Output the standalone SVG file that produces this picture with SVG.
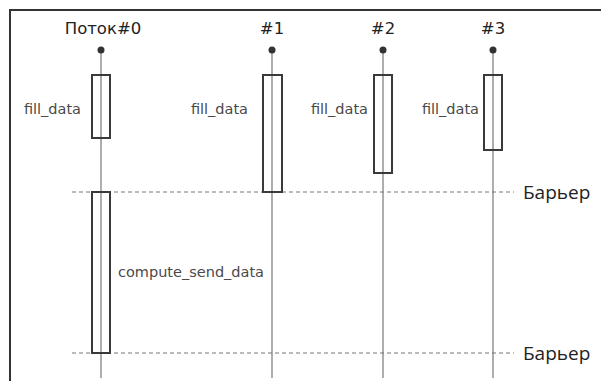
<svg xmlns="http://www.w3.org/2000/svg" width="601" height="381" viewBox="0 0 601 381">
<style>
.life{stroke:#777;stroke-width:1.2;fill:none}
.box{stroke:#3a3a3a;stroke-width:2;fill:none}
.dash{stroke:#777;stroke-width:1;stroke-dasharray:4,3;fill:none}
.title{font-family:"DejaVu Sans",sans-serif;font-size:16.5px;fill:#222;text-anchor:middle}
.lbl{font-family:"DejaVu Sans",sans-serif;font-size:14.5px;fill:#4a4a4a}
.bar{font-family:"Open Sans",sans-serif;font-size:19px;fill:#222}
</style>
<rect width="601" height="381" fill="#fff"/>
<path d="M10,381 V10 H601" stroke="#333" stroke-width="2" fill="none"/>
<g id="connectors">
<line class="life" x1="101" y1="50" x2="101" y2="378"/>
<line class="life" x1="272" y1="50" x2="272" y2="378"/>
<line class="life" x1="383" y1="50" x2="383" y2="378"/>
<line class="life" x1="493" y1="50" x2="493" y2="378"/>
<line class="dash" x1="72" y1="192" x2="514" y2="192"/>
<line class="dash" x1="72" y1="353" x2="514" y2="353"/>
</g>
<g id="thread0">
<text class="title" x="103" y="34">Поток#0</text>
<circle cx="101" cy="50" r="3.5" fill="#333"/>
<rect class="box" x="92" y="75" width="18" height="63"/>
<text class="lbl" x="81" y="114" text-anchor="end">fill_data</text>
<rect class="box" x="92" y="192" width="18" height="161"/>
<text class="lbl" x="118" y="277">compute_send_data</text>
</g>
<g id="thread1">
<text class="title" x="272" y="34">#1</text>
<circle cx="272" cy="50" r="3.5" fill="#333"/>
<rect class="box" x="263" y="75" width="19" height="117"/>
<text class="lbl" x="248" y="114" text-anchor="end">fill_data</text>
</g>
<g id="thread2">
<text class="title" x="383" y="34">#2</text>
<circle cx="383" cy="50" r="3.5" fill="#333"/>
<rect class="box" x="374" y="75" width="18" height="98"/>
<text class="lbl" x="368" y="114" text-anchor="end">fill_data</text>
</g>
<g id="thread3">
<text class="title" x="493" y="34">#3</text>
<circle cx="493" cy="50" r="3.5" fill="#333"/>
<rect class="box" x="484" y="75" width="18" height="75"/>
<text class="lbl" x="479" y="114" text-anchor="end">fill_data</text>
</g>
<g id="barrier1"><text class="bar" x="523" y="199">Барьер</text></g>
<g id="barrier2"><text class="bar" x="523" y="360">Барьер</text></g>
</svg>
